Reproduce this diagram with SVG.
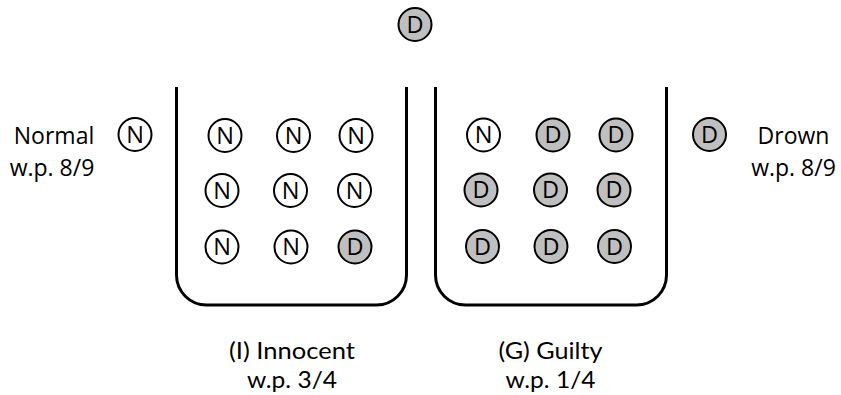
<svg xmlns="http://www.w3.org/2000/svg" width="841" height="395" viewBox="0 0 841 395">
<style>
.c{stroke:#000;stroke-width:2;}
.n{fill:#fff;}
.d{fill:#bfbfbf;}
.l{font-family:"Open Sans","DejaVu Sans",sans-serif;font-size:23.5px;fill:#000;text-anchor:middle;}
.t{font-family:"Open Sans","DejaVu Sans",sans-serif;font-size:23px;fill:#000;text-anchor:middle;}
.b{font-family:Lato,"Open Sans",sans-serif;font-size:23.5px;fill:#000;text-anchor:middle;}
.box{fill:none;stroke:#000;stroke-width:3;}
</style>
<defs>
<g id="N"><circle class="c n" r="16.5"/><text class="l" y="8.3">N</text></g>
<g id="D"><circle class="c d" r="16.5"/><text class="l" y="8.3">D</text></g>
</defs>
<g id="containers">
<path class="box" d="M176.5,87 V275 A30,30 0 0 0 206.5,305 H376.5 A30,30 0 0 0 406.5,275 V87"/>
<path class="box" d="M435.5,87 V275 A30,30 0 0 0 465.5,305 H636.5 A30,30 0 0 0 666.5,275 V87"/>
</g>
<g id="top"><use href="#D" x="415" y="24.5"/></g>
<g id="normal">
<use href="#N" x="135" y="134.5"/>
<text class="t" x="54" y="144">Normal</text>
<text class="t" x="52" y="176">w.p. 8/9</text>
</g>
<g id="drown">
<use href="#D" x="709.5" y="134.5"/>
<text class="t" x="793.5" y="144">Drown</text>
<text class="t" x="793.5" y="176">w.p. 8/9</text>
</g>
<g id="innocent">
<use href="#N" x="225" y="135.5"/>
<use href="#N" x="293.5" y="135.5"/>
<use href="#N" x="356" y="135.5"/>
<use href="#N" x="222" y="190.5"/>
<use href="#N" x="290.5" y="190.5"/>
<use href="#N" x="354.5" y="190.5"/>
<use href="#N" x="222" y="247"/>
<use href="#N" x="291" y="247"/>
<use href="#D" x="355" y="247"/>
<text class="b" x="292" y="359" textLength="126" lengthAdjust="spacingAndGlyphs">(I) Innocent</text>
<text class="b" x="292" y="387.5" textLength="90" lengthAdjust="spacingAndGlyphs">w.p. 3/4</text>
</g>
<g id="guilty">
<use href="#N" x="483.5" y="135"/>
<use href="#D" x="553" y="135"/>
<use href="#D" x="616" y="135"/>
<use href="#D" x="481" y="190"/>
<use href="#D" x="550.5" y="190"/>
<use href="#D" x="614" y="190"/>
<use href="#D" x="482.5" y="246.5"/>
<use href="#D" x="551" y="246.5"/>
<use href="#D" x="614.5" y="246.5"/>
<text class="b" x="550.5" y="359" textLength="104" lengthAdjust="spacingAndGlyphs">(G) Guilty</text>
<text class="b" x="550.5" y="387.5" textLength="90" lengthAdjust="spacingAndGlyphs">w.p. 1/4</text>
</g>
</svg>
